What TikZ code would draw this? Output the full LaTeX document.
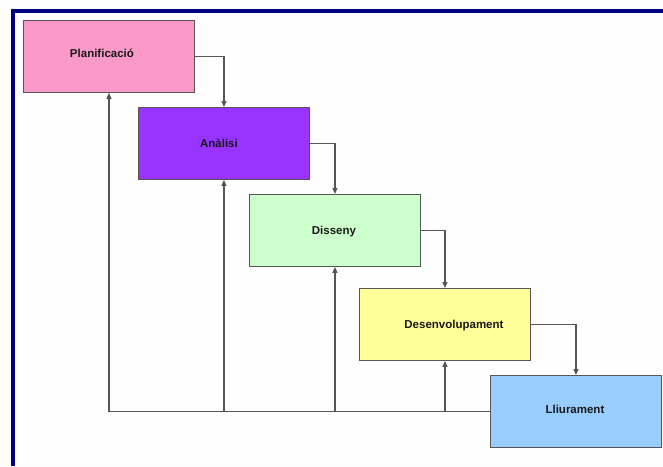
\documentclass[tikz,border=0pt]{standalone}
\usepackage{fontspec}
\setmainfont{Liberation Sans}
\usetikzlibrary{arrows.meta}
\definecolor{paper}{HTML}{FDFDFD}
\definecolor{frame}{HTML}{000080}
\definecolor{wire}{HTML}{555555}
\definecolor{planfill}{HTML}{FA99C8}
\definecolor{anafill}{HTML}{9933FF}
\definecolor{disfill}{HTML}{CCFFCC}
\definecolor{devfill}{HTML}{FFFF99}
\definecolor{llifill}{HTML}{99CCFF}
\begin{document}
\begin{tikzpicture}[x=1pt,y=-1pt,
  phase/.style={draw=wire, line width=0.9pt, minimum width=171pt,
    minimum height=72pt, inner sep=0pt, anchor=north west},
  phasetext/.style={font=\bfseries\fontsize{11.5}{13}\selectfont, text=black!90},
  flow/.style={draw=wire, line width=1.1pt, -{Triangle[length=6pt,width=5pt]}},
  wireline/.style={draw=wire, line width=1.1pt}]
  % page and frame
  \fill[paper] (0,0) rectangle (663,466);
  \useasboundingbox (0,0) rectangle (663,466);
  \fill[frame] (11,9) rectangle (663,13);
  \fill[frame] (11,9) rectangle (15,466);

  % phases of the waterfall
  \node[phase, fill=planfill,
    label={[phasetext, xshift=-7pt, yshift=3pt]center:Planificació}] (plan) at (23,20) {};
  \node[phase, fill=anafill,
    label={[phasetext, xshift=-5pt, yshift=0pt]center:Anàlisi}] (ana) at (138,107) {};
  \node[phase, fill=disfill,
    label={[phasetext, xshift=-1pt, yshift=-1pt]center:Disseny}] (dis) at (249,194) {};
  \node[phase, fill=devfill,
    label={[phasetext, xshift=9pt, yshift=-1pt]center:Desenvolupament}] (dev) at (359,288) {};
  \node[phase, fill=llifill,
    label={[phasetext, xshift=-1pt, yshift=2pt]center:Lliurament}] (lli) at (490,375) {};

  % forward flow
  \draw[flow] (plan.east) -| (ana.north);
  \draw[flow] (ana.east) -| (dis.north);
  \draw[flow] (dis.east) -| (dev.north);
  \draw[flow] (dev.east) -| (lli.north);

  % feedback from delivery to every earlier phase
  \draw[flow] (lli.west) -| (plan.south);
  \draw[flow] (lli.west) -| (ana.south);
  \draw[flow] (lli.west) -| (dis.south);
  \draw[flow] (lli.west) -| (dev.south);
\end{tikzpicture}
\end{document}
